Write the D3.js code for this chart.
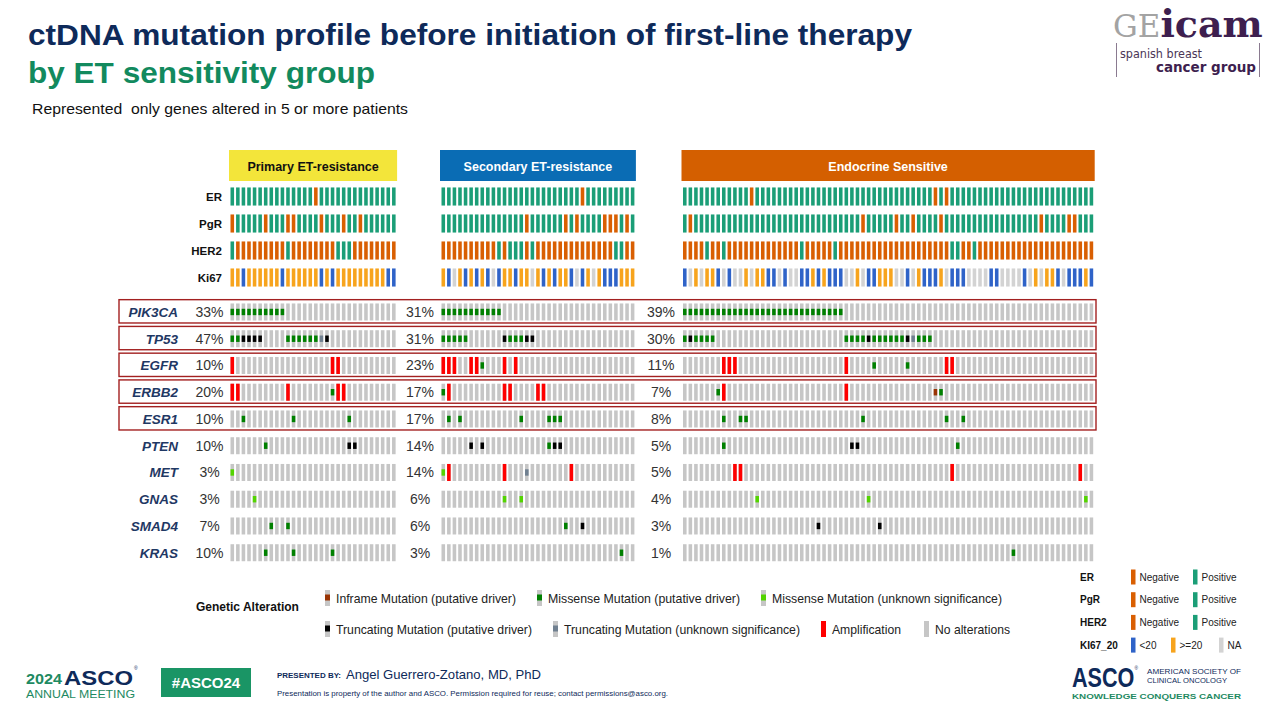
<!DOCTYPE html>
<html><head><meta charset="utf-8">
<script src="https://cdn.jsdelivr.net/npm/d3@7"></script>
<style>body{margin:0;background:#fff}svg{display:block}</style>
</head><body>
<svg id="c" width="1268" height="714"></svg>
<script>
// ---------------- DATA ----------------
const groups = ["Primary ET-resistance", "Secondary ET-resistance", "Endocrine Sensitive"];
const groupSizes = [30, 35, 74];
const genes = ["PIK3CA", "TP53", "EGFR", "ERBB2", "ESR1", "PTEN", "MET", "GNAS", "SMAD4", "KRAS"];
const highlightedGenes = ["PIK3CA", "TP53", "EGFR", "ERBB2", "ESR1"];
const pctPrimary   = ["33%", "47%", "10%", "20%", "10%", "10%", "3%", "3%", "7%", "10%"];
const pctSecondary = ["31%", "31%", "23%", "17%", "17%", "14%", "14%", "6%", "6%", "3%"];
const pctSensitive = ["39%", "30%", "11%", "7%", "8%", "5%", "5%", "4%", "3%", "1%"];
const clinicalTracks = ["ER", "PgR", "HER2", "Ki67"];

// alteration codes per patient: . none, M missense (driver), m missense (unknown),
// T truncating (driver), t truncating (unknown), A amplification, I inframe (driver)
const altPrimary = [
  "MMMMMMMMMM....................",
  "MMTTTT....MMMMMMtT............",
  "A.................AA..........",
  "AA........A.......MAA.........",
  "..M........M.........M........",
  "......M..............TT.......",
  "m.............................",
  "....m.........................",
  ".......M..M...................",
  "......M....M......M..........."
];
const altSecondary = [
  "MMMMMMMMMMM........................",
  "MMMMM......TMMMTT..................",
  "AAA..AAM...A.A.....................",
  "MA.........AA....AA................",
  ".M.M..........M....MMM.............",
  ".....T.T...........MTT.............",
  "mA.........A...t.......A...........",
  "...........m..m....................",
  "......................M..T.........",
  "................................M.."
];
const altSensitive = [
  "MMMMMMMMMMMMMMMMMMMMMMMMMMMMM.............................................",
  "MTMMMM.......................MMMMTMMMMMMTtMMM.............................",
  ".......AAA...................A....M.....M......AA.........................",
  "......MA.....................A...............IM...........................",
  ".......M..MM....................M..............M..M.......................",
  ".......M......................TT.................M........................",
  ".........AA.....................................A......................A..",
  ".............m...................m......................................m.",
  "........................T..........T......................................",
  "...........................................................M.............."
];

// clinical tracks: P positive, N negative ; Ki67: L <20, H >=20, X NA
const clinPrimary = [
  "PPPPPPPPPPPPPPPNPPPPPPPPPPPPPP",
  "NPPPPPNPPPNNPPPPNPPPNPPNPPPPPP",
  "PNNNNNNNNNPNNNNNNNNPPPNNNNNNNN",
  "HHLHHHHHHLHHHHHHLHLHHHHHHHHHLL"
];
const clinSecondary = [
  "PPPPPPPPPPPPPPPPPPPPPPPPPNPPPPPPPPP",
  "PPPPPPPPPPPPPPPNPPPPPPNPNPPPPNNNPNP",
  "NNNNNNNNNNPNPPPNPNNNNNNNNNNNNNNPPNN",
  "HLXHLHLHLXLHHLHHXHLHLHHLXLHXHLLLHHH"
];
const clinSensitive = [
  "PPPPPPPPPPPPNPPPPPPPPPPPPPPPPPPPPPPPPPPPPPPPPNPNPPPPPPPPPPPPPPPPPPPPPPPPPP",
  "PNPPPPPPPPPPPPPPPPPPPPPPPPPPPPPPNPPPPPNPPNPPPPNPPPPPPPPPPPPPPPPPNPPPPNNPPP",
  "NNNNPNNPNNNNNNNNNNNNNPNNNNNPNNNNNNNNNNNNNNNNNNNNPPNNPNNNNNNNNNNNNNNNNNNNNN",
  "LXHXHHLXLXXHXHHLLXLXXLLHLHLLLXXHXLLHHHXXLXHLLLHXLLLXXXXLLXXXXLXHXHHLXLLLHL"
];

const legendAlterations = [
  ["I", "Inframe Mutation (putative driver)"],
  ["M", "Missense Mutation (putative driver)"],
  ["m", "Missense Mutation (unknown significance)"],
  ["T", "Truncating Mutation (putative driver)"],
  ["t", "Truncating Mutation (unknown significance)"],
  ["A", "Amplification"],
  [".", "No alterations"]
];

// ---------------- STYLE ----------------
const C = {
  navy: "#0e2a5a", green: "#128a5e", geneLabel: "#1f3864",
  pos: "#1b9e77", neg: "#d95f02", ki_low: "#2f63c8", ki_high: "#f7a41d", ki_na: "#d3d3d3",
  none: "#c6c6c6", box: "#a32020"
};
const altColor = { M: "#008000", m: "#53d400", T: "#000000", t: "#708090", A: "#ff0000", I: "#993404" };
const clinColor = { P: C.pos, N: C.neg, L: C.ki_low, H: C.ki_high, X: C.ki_na };
const headerFill = ["#f3e53a", "#0a6cb4", "#d45f00"];
const headerText = ["#111", "#fff", "#fff"];
const groupRanges = [[230.5, 395.6], [441.5, 634.4], [683, 1093.2]];
const pctX = [209.5, 420, 661];
const FONT = "'Liberation Sans', Arial, sans-serif";
const NARROW = "'Liberation Sans Narrow', 'Arial Narrow', 'Liberation Sans', Arial, sans-serif";

const svg = d3.select("#c");
svg.append("rect").attr("width", 1268).attr("height", 714).attr("fill", "#fff");

// ---------------- TITLES ----------------
svg.append("text").attr("x", 28).attr("y", 45).attr("font-family", FONT).attr("font-weight", "bold")
  .attr("font-size", 30).attr("fill", C.navy).attr("textLength", 884).attr("lengthAdjust", "spacingAndGlyphs")
  .text("ctDNA mutation profile before initiation of first-line therapy");
svg.append("text").attr("x", 28).attr("y", 83).attr("font-family", FONT).attr("font-weight", "bold")
  .attr("font-size", 30).attr("fill", C.green).attr("textLength", 347).attr("lengthAdjust", "spacingAndGlyphs")
  .text("by ET sensitivity group");
svg.append("text").attr("x", 32).attr("y", 114).attr("font-family", FONT).style("white-space", "pre")
  .attr("font-size", 15).attr("fill", "#111").attr("textLength", 376).attr("lengthAdjust", "spacingAndGlyphs")
  .text("Represented  only genes altered in 5 or more patients");

// GEICAM logo
const logo = svg.append("g");
const lt = logo.append("text").attr("x", 1113).attr("y", 37).attr("font-family", "'DejaVu Serif', 'Liberation Serif', serif");
lt.append("tspan").attr("font-size", 31).attr("fill", "#a3a3a3").text("GE");
lt.append("tspan").attr("font-size", 38).attr("font-weight", "bold").attr("fill", "#3e1f4f").text("icam");
logo.append("line").attr("x1", 1116.5).attr("x2", 1116.5).attr("y1", 43).attr("y2", 77).attr("stroke", "#8a7a90").attr("stroke-width", 1);
logo.append("line").attr("x1", 1259.5).attr("x2", 1259.5).attr("y1", 43).attr("y2", 77).attr("stroke", "#8a7a90").attr("stroke-width", 1);
logo.append("text").attr("x", 1120).attr("y", 58).attr("font-family", "'DejaVu Sans', sans-serif")
  .attr("font-size", 11.5).attr("fill", "#4a3556").attr("textLength", 82).attr("lengthAdjust", "spacingAndGlyphs").text("spanish breast");
logo.append("text").attr("x", 1256).attr("y", 72).attr("text-anchor", "end").attr("font-family", "'DejaVu Sans', sans-serif")
  .attr("font-weight", "bold").attr("font-size", 13.5).attr("fill", "#3e1f4f").text("cancer group");

// ---------------- ONCOPRINT ----------------
const yGene = d3.scaleBand().domain(genes).range([298.6, 566.1]).paddingInner(0.364).paddingOuter(0.182);
const yClin = d3.scaleBand().domain(clinicalTracks).range([183, 291]).paddingInner(0.33).paddingOuter(0.165);

const altSets = [altPrimary, altSecondary, altSensitive];
const clinSets = [clinPrimary, clinSecondary, clinSensitive];
const pctSets = [pctPrimary, pctSecondary, pctSensitive];

const bh = yGene.bandwidth();
highlightedGenes.forEach(g => {
  svg.append("rect").attr("x", 119).attr("width", 977)
    .attr("y", yGene(g) - 3.8).attr("height", bh + 6.3)
    .attr("fill", "none").attr("stroke", C.box).attr("stroke-width", 1.4);
});

groups.forEach((grp, gi) => {
  const x = d3.scaleBand().domain(d3.range(groupSizes[gi])).range(groupRanges[gi]).paddingInner(0.36);
  const bw = x.bandwidth();
  const G = svg.append("g");
  G.append("rect").attr("x", groupRanges[gi][0] - 1.5).attr("y", 150)
    .attr("width", groupRanges[gi][1] - groupRanges[gi][0] + 3).attr("height", 31).attr("fill", headerFill[gi]);
  G.append("text").attr("x", (groupRanges[gi][0] + groupRanges[gi][1]) / 2).attr("y", 170.5)
    .attr("text-anchor", "middle").attr("font-family", FONT).attr("font-weight", "bold")
    .attr("font-size", 12.5).attr("fill", headerText[gi]).text(grp);
  clinicalTracks.forEach((t, ti) => {
    const row = clinSets[gi][ti].split("");
    G.selectAll(null).data(row).enter().append("rect")
      .attr("x", (d, i) => x(i)).attr("width", bw)
      .attr("y", yClin(t)).attr("height", yClin.bandwidth())
      .attr("fill", d => clinColor[d]);
  });
  genes.forEach((gene, ri) => {
    const row = altSets[gi][ri].split("");
    G.selectAll(null).data(row).enter().append("rect")
      .attr("x", (d, i) => x(i)).attr("width", bw)
      .attr("y", yGene(gene)).attr("height", bh).attr("fill", C.none);
    G.selectAll(null).data(row.map((d, i) => ({ d, i })).filter(o => o.d !== ".")).enter().append("rect")
      .attr("x", o => x(o.i)).attr("width", bw)
      .attr("y", o => o.d === "A" ? yGene(gene) : yGene(gene) + bh / 2 - 3.2)
      .attr("height", o => o.d === "A" ? bh : 6.4)
      .attr("fill", o => altColor[o.d]);
    G.append("text").attr("x", pctX[gi]).attr("y", yGene(gene) + bh / 2 + 5)
      .attr("text-anchor", "middle").attr("font-family", FONT).attr("font-size", 14)
      .attr("fill", "#333").text(pctSets[gi][ri]);
  });
});

clinicalTracks.forEach(t => {
  svg.append("text").attr("x", 222).attr("y", yClin(t) + yClin.bandwidth() / 2 + 4)
    .attr("text-anchor", "end").attr("font-family", FONT).attr("font-weight", "bold")
    .attr("font-size", 11.5).attr("fill", "#111").text(t);
});
genes.forEach(g => {
  svg.append("text").attr("x", 178).attr("y", yGene(g) + bh / 2 + 5)
    .attr("text-anchor", "end").attr("font-family", FONT).attr("font-weight", "bold").attr("font-style", "italic")
    .attr("font-size", 13.5).attr("fill", C.geneLabel).text(g);
});

// ---------------- LEGEND (alterations) ----------------
svg.append("text").attr("x", 196).attr("y", 611).attr("font-family", FONT).attr("font-weight", "bold")
  .attr("font-size", 12).attr("fill", "#111").text("Genetic Alteration");
const legPos = [[325, 598, 180], [537, 598, 192], [761, 598, 230], [325, 629, 196], [553, 629, 236], [821, 629, 69], [924, 629, 75]];
legendAlterations.forEach(([code, label], i) => {
  const [lx, ly, tw] = legPos[i];
  const L = svg.append("g");
  L.append("rect").attr("x", lx).attr("y", ly - 8).attr("width", 5).attr("height", 16)
    .attr("fill", code === "A" ? altColor.A : C.none);
  if (code !== "A" && code !== ".") {
    L.append("rect").attr("x", lx).attr("y", ly - 3.5).attr("width", 5).attr("height", 6).attr("fill", altColor[code]);
  }
  L.append("text").attr("x", lx + 11).attr("y", ly + 5).attr("font-family", NARROW).attr("font-size", 13)
    .attr("fill", "#222").attr("textLength", tw).attr("lengthAdjust", "spacingAndGlyphs").text(label);
});

// ---------------- LEGEND (clinical) ----------------
const clinLegend = [
  ["ER", [["N", "Negative"], ["P", "Positive"]]],
  ["PgR", [["N", "Negative"], ["P", "Positive"]]],
  ["HER2", [["N", "Negative"], ["P", "Positive"]]],
  ["KI67_20", [["L", "<20"], ["H", ">=20"], ["X", "NA"]]]
];
const clx = [[1131, 1193], [1131, 1193], [1131, 1193], [1131, 1171, 1219]];
clinLegend.forEach(([lab, items], i) => {
  const cy = 577 + i * 22.7;
  svg.append("text").attr("x", 1080).attr("y", cy + 3.5).attr("font-family", NARROW).attr("font-weight", "bold")
    .attr("font-size", 10).attr("fill", "#111").text(lab);
  items.forEach(([code, txt], j) => {
    svg.append("rect").attr("x", clx[i][j]).attr("y", cy - 7.5).attr("width", 4.5).attr("height", 15).attr("fill", clinColor[code]);
    svg.append("text").attr("x", clx[i][j] + 8.5).attr("y", cy + 3.5).attr("font-family", NARROW)
      .attr("font-size", 10).attr("fill", "#222").text(txt);
  });
});

// ---------------- FOOTER ----------------
const F = svg.append("g");
F.append("text").attr("x", 26).attr("y", 684).attr("font-family", FONT).attr("font-weight", "bold")
  .attr("font-size", 15).attr("fill", "#1e8a62").attr("textLength", 36).attr("lengthAdjust", "spacingAndGlyphs").text("2024");
F.append("text").attr("x", 64).attr("y", 685).attr("font-family", FONT).attr("font-weight", "bold")
  .attr("font-size", 20).attr("fill", "#0e2a5a").attr("textLength", 69).attr("lengthAdjust", "spacingAndGlyphs").text("ASCO");
F.append("text").attr("x", 134).attr("y", 670).attr("font-family", FONT).attr("font-size", 5).attr("fill", "#0e2a5a").text("®");
F.append("text").attr("x", 26).attr("y", 698).attr("font-family", FONT)
  .attr("font-size", 10).attr("fill", "#1e8a62").attr("textLength", 109).attr("lengthAdjust", "spacingAndGlyphs").text("ANNUAL MEETING");
F.append("rect").attr("x", 161).attr("y", 668).attr("width", 90).attr("height", 29).attr("fill", "#1a9565");
F.append("text").attr("x", 206).attr("y", 688).attr("text-anchor", "middle").attr("font-family", FONT).attr("font-weight", "bold")
  .attr("font-size", 15).attr("fill", "#fff").text("#ASCO24");
F.append("text").attr("x", 277).attr("y", 678).attr("font-family", FONT).attr("font-weight", "bold")
  .attr("font-size", 6.5).attr("fill", "#0e2a5a").attr("textLength", 64).attr("lengthAdjust", "spacingAndGlyphs").text("PRESENTED BY:");
F.append("text").attr("x", 346).attr("y", 679).attr("font-family", NARROW)
  .attr("font-size", 13).attr("fill", "#0e2a5a").attr("textLength", 195).attr("lengthAdjust", "spacingAndGlyphs").text("Angel Guerrero-Zotano, MD, PhD");
F.append("text").attr("x", 277).attr("y", 696).attr("font-family", NARROW)
  .attr("font-size", 7).attr("fill", "#0e2a5a").attr("textLength", 391).attr("lengthAdjust", "spacingAndGlyphs")
  .text("Presentation is property of the author and ASCO. Permission required for reuse; contact permissions@asco.org.");
const asco = F.append("text").attr("transform", "translate(1072,687) scale(0.8,1)").attr("font-family", FONT).attr("fill", "#0e2a5a");
asco.append("tspan").attr("font-size", 27).attr("font-weight", "bold").text("ASCO");
asco.append("tspan").attr("font-size", 6).attr("dy", -17).text("®");
F.append("text").attr("x", 1147).attr("y", 674).attr("font-family", NARROW)
  .attr("font-size", 7).attr("fill", "#0e2a5a").attr("textLength", 94).attr("lengthAdjust", "spacingAndGlyphs").text("AMERICAN SOCIETY OF");
F.append("text").attr("x", 1147).attr("y", 683).attr("font-family", NARROW)
  .attr("font-size", 7).attr("fill", "#0e2a5a").attr("textLength", 80).attr("lengthAdjust", "spacingAndGlyphs").text("CLINICAL ONCOLOGY");
F.append("text").attr("x", 1072).attr("y", 699).attr("font-family", FONT).attr("font-weight", "bold")
  .attr("font-size", 8).attr("fill", "#1e8a62").attr("textLength", 169).attr("lengthAdjust", "spacingAndGlyphs").text("KNOWLEDGE CONQUERS CANCER");
</script>
</body></html>
